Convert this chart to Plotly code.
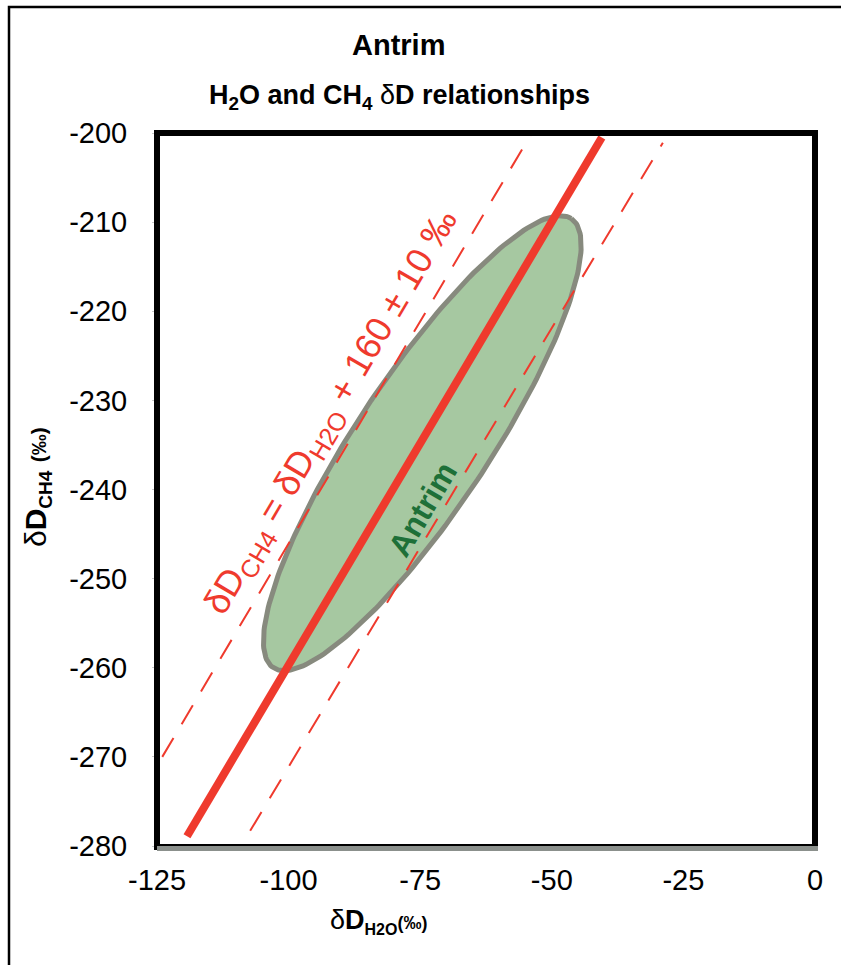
import plotly.graph_objects as go
import numpy as np

# ---- data ----
x_tickvals = [-125, -100, -75, -50, -25, 0]
x_ticktext = ["-125", "-100", "-75", "-50", "-25", "0"]
y_tickvals = [-200, -210, -220, -230, -240, -250, -260, -270, -280]
y_ticktext = ["-200", "-210", "-220", "-230", "-240", "-250", "-260", "-270", "-280"]

# central relationship line
main_x = [-119.3, -40.5]
main_y = [-278.9, -200.5]
# +/- band lines
upper_x = [-124.0, -53.6]
upper_y = [-270.0, -199.8]
lower_x = [-107.3, -28.9]
lower_y = [-278.3, -201.1]

# Antrim field ellipse: centre and two conjugate semi-axes (data units)
ell_center = [-74.6, -234.8]
ell_major = [28.3, 25.2]
ell_minor = [10.5, -4.1]

FONT = "Liberation Sans, Arial, Helvetica, sans-serif"
RED = "#ef3a2d"

t = np.linspace(0, 2 * np.pi, 241)
ex = ell_center[0] + np.cos(t) * ell_major[0] + np.sin(t) * ell_minor[0]
ey = ell_center[1] + np.cos(t) * ell_major[1] + np.sin(t) * ell_minor[1]

fig = go.Figure()
fig.add_trace(go.Scatter(x=ex, y=ey, mode="lines", fill="toself",
                         fillcolor="#a6c8a1", line=dict(color="#878a7e", width=5),
                         hoverinfo="skip"))
fig.add_trace(go.Scatter(x=upper_x, y=upper_y, mode="lines",
                         line=dict(color=RED, width=2, dash="22px,16px")))
fig.add_trace(go.Scatter(x=lower_x, y=lower_y, mode="lines",
                         line=dict(color=RED, width=2, dash="22px,16px")))
fig.add_trace(go.Scatter(x=main_x, y=main_y, mode="lines",
                         line=dict(color=RED, width=8)))

L, R, T, B = 157, 26, 133, 119
W, H = 841, 965
pw, ph = W - L - R, H - T - B

def px(xp):
    return (xp - L) / pw

def py(yp):
    return (H - B - yp) / ph

annotations = [
    dict(text="<b>Antrim</b>", x=px(398), y=py(45), xref="paper", yref="paper",
         showarrow=False, font=dict(size=29, color="black", family=FONT),
         xanchor="center", yanchor="middle"),
    dict(text="<b>H<sub>2</sub>O and CH<sub>4</sub> </b>δ<b>D relationships</b>",
         x=px(399), y=py(97), xref="paper", yref="paper",
         showarrow=False, font=dict(size=27, color="black", family=FONT),
         xanchor="center", yanchor="middle"),
    dict(text="δ<b>D</b><sub><span style='font-size:16px'><b>H2O</b></span></sub>"
              "<span style='font-size:18px'><b>(‰)</b></span>",
         x=px(378), y=py(921), xref="paper", yref="paper",
         showarrow=False, font=dict(size=27, color="black", family=FONT),
         xanchor="center", yanchor="middle"),
    dict(text="δ<b>D</b><sub><span style='font-size:19px'><b>CH4</b></span></sub> "
              "<span style='font-size:21px'><b>(‰)</b></span>",
         x=px(37), y=py(487), xref="paper", yref="paper", textangle=-90,
         showarrow=False, font=dict(size=30, color="black", family=FONT),
         xanchor="center", yanchor="middle"),
    dict(text="δD<sub>CH4</sub> = δD<sub>H2O</sub> + 160 ± 10 ‰",
         x=-91.8, y=-231.4, xref="x", yref="y", textangle=-59.5,
         showarrow=False, font=dict(size=36, color=RED, family=FONT),
         xanchor="center", yanchor="middle"),
    dict(text="<b>Antrim</b>",
         x=-74.5, y=-242.2, xref="x", yref="y", textangle=-59.5,
         showarrow=False, font=dict(size=32, color="#1e7038", family=FONT),
         xanchor="center", yanchor="middle"),
]

shapes = [
    # outer frame (cropped: only left and top visible)
    dict(type="rect", xref="paper", yref="paper", x0=px(9), x1=px(900),
         y0=py(1000), y1=py(7), line=dict(color="black", width=2.5)),
    # plot frame
    dict(type="line", xref="paper", yref="paper", x0=0, x1=0, y0=py(850), y1=py(130),
         line=dict(color="black", width=6)),
    dict(type="line", xref="paper", yref="paper", x0=px(154), x1=px(817), y0=1, y1=1,
         line=dict(color="black", width=6)),
    dict(type="line", xref="paper", yref="paper", x0=1, x1=1, y0=py(848), y1=py(130),
         line=dict(color="black", width=6)),
    dict(type="line", xref="paper", yref="paper", x0=px(157), x1=px(818), y0=py(848.5), y1=py(848.5),
         line=dict(color="#8b908c", width=5)),
    dict(type="line", xref="paper", yref="paper", x0=px(157), x1=px(816), y0=py(845), y1=py(845),
         line=dict(color="black", width=2)),
]

fig.update_layout(
    width=W, height=H,
    margin=dict(l=L, r=R, t=T, b=B),
    paper_bgcolor="white", plot_bgcolor="white",
    showlegend=False,
    font=dict(family=FONT, color="black"),
    xaxis=dict(range=[-125, 0], tickvals=x_tickvals, ticktext=x_ticktext,
               showgrid=False, zeroline=False, showline=False,
               ticks="outside", ticklen=4, tickcolor="#c8c8c8",
               tickfont=dict(size=29, family=FONT, color="black"),
               ticklabelstandoff=4),
    yaxis=dict(range=[-280, -200], tickvals=y_tickvals, ticktext=y_ticktext,
               showgrid=False, zeroline=False, showline=False,
               ticks="outside", ticklen=4, tickcolor="#c8c8c8",
               tickfont=dict(size=29, family=FONT, color="black"),
               ticklabelstandoff=19),
    annotations=annotations,
    shapes=shapes,
)

fig.write_html("out.html", config={"displayModeBar": False},
               post_script="document.body.style.margin='0';document.body.style.overflow='hidden';")
